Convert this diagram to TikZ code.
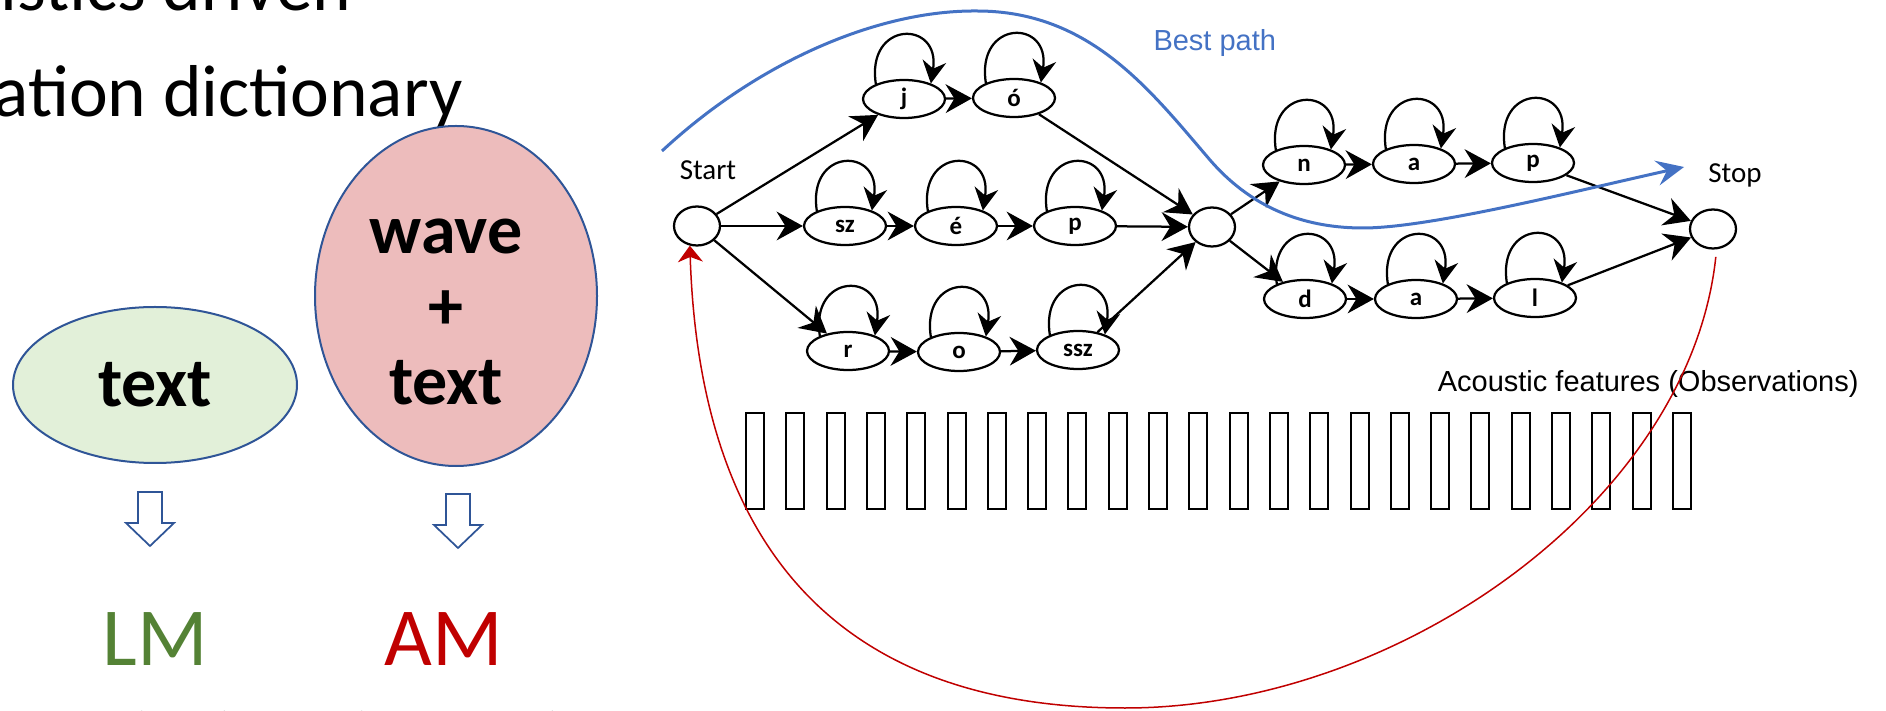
\documentclass[tikz,border=0pt]{standalone}
\usepackage{fontspec}
\setmainfont{Carlito}
\newfontfamily\arialfont{Liberation Sans}
\usetikzlibrary{arrows.meta,shapes.geometric}

\definecolor{pathblue}{RGB}{68,114,196}
\definecolor{backred}{RGB}{192,0,0}
\definecolor{lmgreen}{RGB}{84,130,53}
\definecolor{blobline}{RGB}{47,85,151}
\definecolor{lmfill}{RGB}{226,240,217}
\definecolor{amfill}{RGB}{237,188,188}

\tikzset{
	state/.style={draw, ellipse, line width=0.9pt, inner sep=0pt, minimum width=32.8pt, minimum height=15.2pt, font=\bfseries\fontsize{10}{12}\selectfont},
	junction/.style={draw, ellipse, line width=0.9pt, inner sep=0pt, minimum width=18.4pt, minimum height=15.6pt},
	trans/.style={line width=0.9pt, -{Stealth[length=10.5pt,width=11.5pt,inset=3.5pt]}},
	selfloop/.style={line width=0.9pt, -{Stealth[length=9pt,width=9.5pt,inset=3pt]}},
	blob/.style={draw=blobline, ellipse, line width=0.8pt, inner sep=0pt},
	blobtext/.style={inner sep=0pt, align=center, font=\bfseries\fontsize{28}{30.2}\selectfont},
	bigarrow/.style={draw=blobline, line width=0.7pt, fill=white},
	frame/.style={draw, line width=0.8pt},
}

\begin{document}
\begin{tikzpicture}[x=0.4pt,y=0.4pt,yscale=-1,xscale=1]
	\useasboundingbox (0,0) rectangle (1886,711);
	
	% Slide text (cut off)
	\node [anchor=base east, inner sep=0pt, font=\fontsize{29.4}{35}\selectfont] (title1) at (352,11) {istics driven};
	\node [anchor=base east, inner sep=0pt, font=\fontsize{29.4}{35}\selectfont] (title2) at (463,117) {ation dictionary};
	
	% Data blobs
	\node [blob, fill=lmfill, minimum width=113.6pt, minimum height=62.4pt, font=\bfseries\fontsize{28}{30.2}\selectfont] (lm-data) at (155,385) {text};
	\node [blob, fill=amfill, minimum width=112.8pt, minimum height=136pt] (am-data) at (456,296) {};
	\node [blobtext] (am-text) at (446,312) {wave\\+\\text};
	
	% Block arrows
	\draw [bigarrow] (138,492) -- (162,492) -- (162,523) -- (174,523) -- (150,546) -- (126,523) -- (138,523) -- cycle;
	\draw [bigarrow] (446,494) -- (470,494) -- (470,525) -- (482,525) -- (458,548) -- (434,525) -- (446,525) -- cycle;
	
	% Models
	\node [anchor=base, inner sep=0pt, text=lmgreen, font=\fontsize{33}{40}\selectfont] (lm) at (155,665) {LM};
	\node [anchor=base, inner sep=0pt, text=backred, font=\fontsize{33}{40}\selectfont] (am) at (444,665) {AM};
	\node [anchor=base, inner sep=0pt, font=\fontsize{33}{40}\selectfont] (lm-open) at (138,771) {(};
	\node [anchor=base, inner sep=0pt, font=\fontsize{33}{40}\selectfont] (lm-close) at (229,771) {)};
	\node [anchor=base, inner sep=0pt, font=\fontsize{33}{40}\selectfont] (am-open) at (358,771) {(};
	\node [anchor=base, inner sep=0pt, font=\fontsize{33}{40}\selectfont] (am-close) at (557,771) {)};
	
	% Pronunciation network
	\node [junction] (start) at (697,226) {};
	\node [junction] (mid) at (1212,227) {};
	\node [junction] (stop) at (1713,229) {};
	\node [state] (j) at (904,99) {j};
	\node [state] (oacute) at (1014,98) {ó};
	\node [state] (sz) at (845,226) {sz};
	\node [state] (eacute) at (956,226) {é};
	\node [state] (p1) at (1075,226) {p};
	\node [state] (r) at (848,351) {r};
	\node [state] (o) at (959,352) {o};
	\node [state] (ssz) at (1078,350) {ssz};
	\node [state] (n) at (1304,165) {n};
	\node [state] (a1) at (1414,164) {a};
	\node [state] (p2) at (1533,163) {p};
	\node [state] (d) at (1305,299) {d};
	\node [state] (a2) at (1416,299) {a};
	\node [state] (l) at (1535,298) {l};
	
	% Text Node
	\node [anchor=base, inner sep=0pt, font=\fontsize{11.6}{14}\selectfont] (start-lbl) at (708,180) {Start};
	% Text Node
	\node [anchor=base, inner sep=0pt, font=\fontsize{11.6}{14}\selectfont] (stop-lbl) at (1735,183) {Stop};
	
	\draw [trans] (start) -- (j);
	\draw [trans] (start) -- (sz);
	\draw [trans] (start) -- (r);
	\draw [trans] (j) -- (oacute);
	\draw [trans] (sz) -- (eacute);
	\draw [trans] (eacute) -- (p1);
	\draw [trans] (r) -- (o);
	\draw [trans] (o) -- (ssz);
	\draw [trans] (oacute) -- (mid);
	\draw [trans] (p1) -- (mid);
	\draw [trans] (ssz) -- (mid);
	\draw [trans] (mid) -- (n);
	\draw [trans] (mid) -- (d);
	\draw [trans] (n) -- (a1);
	\draw [trans] (a1) -- (p2);
	\draw [trans] (d) -- (a2);
	\draw [trans] (a2) -- (l);
	\draw [trans] (p2) -- (stop);
	\draw [trans] (l) -- (stop);
	
	\foreach \s in {j,oacute,sz,eacute,p1,r,o,ssz,n,a1,p2,d,a2,l}
		\draw [selfloop] (\s.152) .. controls +(-10,-64) and +(10,-64) .. (\s.30);
	
	% Observation frames
	\node [anchor=base east, inner sep=0pt, font=\arialfont\fontsize{11.6}{14}\selectfont] (obs-lbl) at (1859,392) {Acoustic features (Observations)};
	\foreach \i in {0,...,23}
		\draw [frame] ({746+40.3*\i},413) rectangle ++(18,96);
	
	% Best path
	\coordinate (bp-from) at (662,151);
	\coordinate (bp-to) at (1684,167);
	\node [anchor=base west, inner sep=0pt, text=pathblue, font=\arialfont\fontsize{11.6}{14}\selectfont] (bp-lbl) at (1153,51) {Best path};
	\draw [pathblue, line width=1.2pt, -{Stealth[length=11pt,width=10pt,inset=4pt]}] (bp-from) .. controls (760,60) and (880,10) .. (977,11) .. controls (1090,11) and (1150,90) .. (1210,160) .. controls (1255,212) and (1310,228) .. (1363,228) .. controls (1430,228) and (1580,190) .. (bp-to);
	
	% Back loop
	\draw [backred, line width=0.6pt, shorten <=3pt, -{Stealth[length=6.5pt,width=10pt,inset=2pt]}] (stop.-80) .. controls (1690,500) and (1400,708) .. (1125,708) .. controls (850,708) and (700,560) .. (start.250);
	
\end{tikzpicture}
\end{document}
